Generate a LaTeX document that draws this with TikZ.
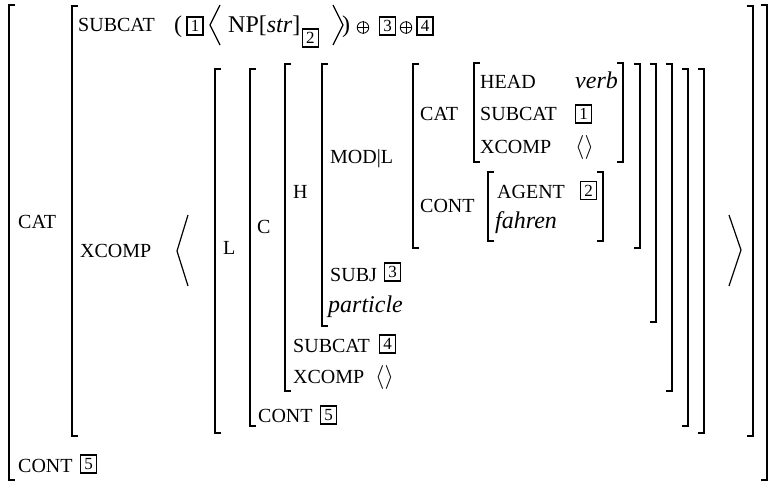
\documentclass[tikz,border=0pt]{standalone}
\usepackage{fix-cm}
\usepackage{fontspec}
\setmainfont{Liberation Serif}
\usetikzlibrary{calc}
\begin{document}
\begin{tikzpicture}[x=1pt, y=-1pt,
	brk/.style={line width=1.5pt},
	ang/.style={line width=1.2pt},
	feat/.style={anchor=base west, inner sep=0pt, font=\fontsize{20}{24}\selectfont},
	val/.style={anchor=base west, inner sep=0pt, font=\fontsize{24}{28}\selectfont},
	tagbox/.style={draw, line width=1.8pt, inner sep=0pt, minimum width=16pt, minimum height=18pt, font=\fontsize{17}{20}\selectfont},
	oplus/.style={circle, draw, line width=0.8pt, inner sep=0pt, minimum size=11.5pt}]
	\useasboundingbox (0,0) rectangle (769,482);
	% Brackets, outermost first:
	\draw[brk] (15,5) -| (9,480) -- (15,480);
	\draw[brk] (761,5) -| (767,480) -- (761,480);
	\draw[brk] (78,6) -| (72,436) -- (78,436);
	\draw[brk] (747,6) -| (753,436) -- (747,436);
	\draw[brk] (221,69) -| (215,433) -- (221,433);
	\draw[brk] (698,69) -| (704,433) -- (698,433);
	\draw[brk] (256,69) -| (250,426) -- (256,426);
	\draw[brk] (682,69) -| (688,426) -- (682,426);
	\draw[brk] (291,64) -| (285,391) -- (291,391);
	\draw[brk] (666,64) -| (672,391) -- (666,391);
	\draw[brk] (328,64) -| (322,326) -- (328,326);
	\draw[brk] (650,64) -| (656,322) -- (650,322);
	\draw[brk] (419,64) -| (413,248) -- (419,248);
	\draw[brk] (634,64) -| (640,248) -- (634,248);
	\draw[brk] (480,63) -| (474,162) -- (480,162);
	\draw[brk] (617,63) -| (623,162) -- (617,162);
	\draw[brk] (494,172) -| (488,241) -- (494,241);
	\draw[brk] (597,172) -| (603,241) -- (597,241);
	% Angle brackets:
	\draw[ang] (220,5) -- (210,25) -- (220,45);
	\draw[ang] (333,5) -- (343,25) -- (333,45);
	\draw[ang] (188,215) -- (177,251) -- (188,286);
	\draw[ang] (729,215) -- (741,250) -- (729,286);
	% Top level:
	\node[feat] (cat1) at (18,228) {CAT};
	\node[feat] (cont1) at (18,472) {CONT};
	\node[tagbox] (tag5b) at (88.5,464) {5};
	% CAT value:
	\node[feat] (subcat2) at (78,31) {SUBCAT};
	\node[val] (lpar) at (174,32) {(};
	\node[tagbox] (tag1a) at (195,26) {1};
	\node[val] (np) at (228,32) {NP[\textit{str}]};
	\node[tagbox] (tag2a) at ($(np.base east)+(10,6)$) {2};
	\node[val] (rpar) at (342,32) {)};
	\node[oplus] (plusa) at (363,27.5) {};
	\draw[line width=0.8pt] (plusa.north) -- (plusa.south) (plusa.west) -- (plusa.east);
	\node[tagbox] (tag3a) at (387.5,26) {3};
	\node[oplus] (plusb) at (406,27.5) {};
	\draw[line width=0.8pt] (plusb.north) -- (plusb.south) (plusb.west) -- (plusb.east);
	\node[tagbox] (tag4a) at (425,26) {4};
	\node[feat] (xcomp2) at (80,257) {XCOMP};
	% XCOMP element:
	\node[feat] (l3) at (223,254) {L};
	\node[feat] (c4) at (257,233) {C};
	\node[feat] (cont4) at (258,422) {CONT};
	\node[tagbox] (tag5a) at (328.5,415) {5};
	\node[feat] (h5) at (293,198) {H};
	\node[feat] (subcat5) at (293,352) {SUBCAT};
	\node[tagbox] (tag4b) at (387.5,344) {4};
	\node[feat] (xcomp5) at (293,383) {XCOMP};
	\node[val] (empty5) at (375,383) {$\langle\rangle$};
	\node[feat] (mod6) at (330,163) {MOD|L};
	\node[feat] (subj6) at (330,281) {SUBJ};
	\node[tagbox] (tag3b) at (392.5,272) {3};
	\node[val] (particle) at (328,312) {\textit{particle}};
	% MOD|L value:
	\node[feat] (cat7) at (420,120) {CAT};
	\node[feat] (cont7) at (420,212) {CONT};
	\node[feat] (head8) at (480,88) {HEAD};
	\node[val] (verb) at (575,88) {\textit{verb}};
	\node[feat] (subcat8) at (480,120) {SUBCAT};
	\node[tagbox] (tag1b) at (583.5,114) {1};
	\node[feat] (xcomp8) at (480,153) {XCOMP};
	\node[val] (empty8) at (575,153) {$\langle\rangle$};
	\node[feat] (agent9) at (497,198) {AGENT};
	\node[tagbox] (tag2b) at (588.5,190.5) {2};
	\node[val] (fahren) at (495,228) {\textit{fahren}};
\end{tikzpicture}
\end{document}
